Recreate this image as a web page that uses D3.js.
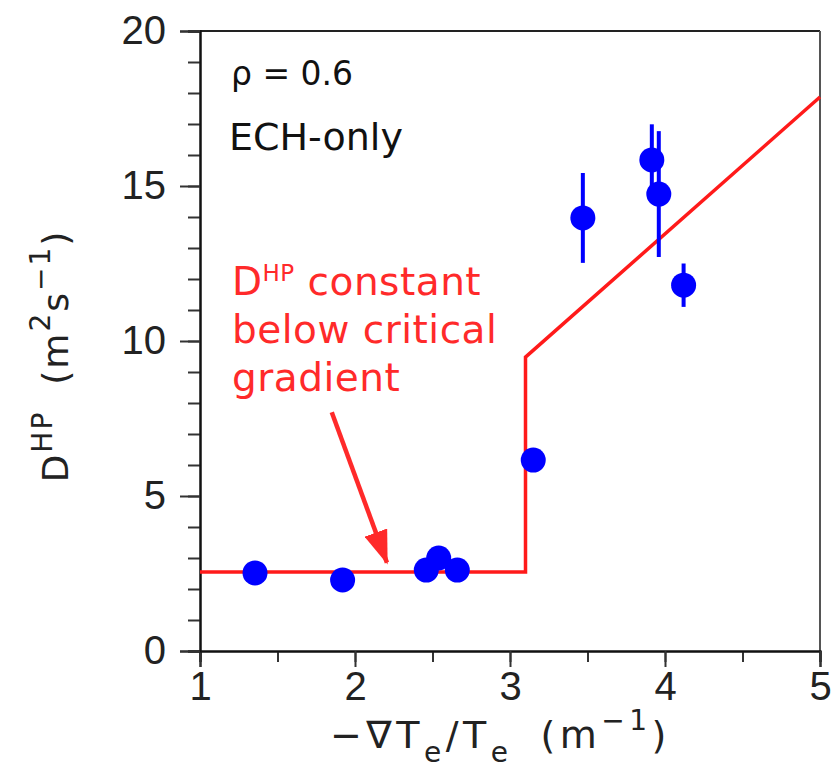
<!DOCTYPE html>
<html>
<head>
<meta charset="utf-8">
<script src="https://d3js.org/d3.v7.min.js"></script>
<style>
  body { margin: 0; background: #fff; }
  svg { display: block; }
</style>
</head>
<body>
<script>
// measured points: gradient, D_HP, error half-height (0 = none)
const gradX = [1.355, 1.92, 2.46, 2.54, 2.66, 3.15, 3.47, 3.915, 3.96, 4.12]
const dhpY  = [2.52, 2.29, 2.61, 3.0, 2.61, 6.16, 13.97, 15.84, 14.74, 11.8]
const errY  = [0, 0, 0, 0, 0, 0, 1.45, 1.15, 2.03, 0.7]

// model: constant below critical gradient, then linear
const modelX = [1, 3.1, 3.1, 5]
const modelY = [2.55, 2.55, 9.48, 17.87]

const xTicks = [1, 2, 3, 4, 5]
const yTicks = [0, 5, 10, 15, 20]

const W = 831, H = 772
const pL = 200, pR = 820, pT = 31, pB = 651

const sans = '"Liberation Sans", Arial, sans-serif'
const wide = '"DejaVu Sans", "Liberation Sans", sans-serif'

let svg = d3.select('body').append('svg')
  .attr('width', W)
  .attr('height', H)

const x = d3.scaleLinear().domain([1, 5]).range([pL, pR])
const y = d3.scaleLinear().domain([0, 20]).range([pB, pT])

// frame top / right
svg.append('line')
  .attr('x1', pL).attr('x2', pR).attr('y1', pT).attr('y2', pT)
  .attr('stroke', '#222').attr('stroke-width', 2)
svg.append('line')
  .attr('x1', pR).attr('x2', pR).attr('y1', pT).attr('y2', pB)
  .attr('stroke', '#555').attr('stroke-width', 2)

function styleAxis(g) {
  g.select('.domain').attr('stroke', '#111').attr('stroke-width', 2)
  g.selectAll('.tick line').attr('stroke', '#333').attr('stroke-width', 2)
  g.selectAll('text')
    .attr('fill', '#222')
    .style('font-size', '40px')
    .style('font-family', sans)
}

// minor ticks first
svg.append('g')
  .attr('transform', `translate(0,${pB})`)
  .call(d3.axisBottom(x).tickValues(d3.range(1, 5.01, 0.5)).tickSize(11).tickFormat(''))
  .call(styleAxis)
svg.append('g')
  .attr('transform', `translate(${pL},0)`)
  .call(d3.axisLeft(y).tickValues(d3.range(0, 20.01, 1)).tickSize(12).tickFormat(''))
  .call(styleAxis)

// major ticks + labels
svg.append('g')
  .attr('transform', `translate(0,${pB})`)
  .call(d3.axisBottom(x).tickValues(xTicks).tickSize(16).tickPadding(5).tickFormat(d3.format('d')))
  .call(styleAxis)
svg.append('g')
  .attr('transform', `translate(${pL},0)`)
  .call(d3.axisLeft(y).tickValues(yTicks).tickSize(20).tickPadding(14).tickFormat(d3.format('d')))
  .call(styleAxis)

// model line
const line = d3.line().x(d => x(d[0])).y(d => y(d[1]))
svg.append('path')
  .datum(d3.zip(modelX, modelY))
  .attr('d', line)
  .attr('fill', 'none')
  .attr('stroke', '#ff1a1a')
  .attr('stroke-width', 3.5)

// data
const pts = gradX.map((g, i) => ({x: g, y: dhpY[i], e: errY[i]}))

svg.append('g').selectAll('line')
  .data(pts.filter(d => d.e > 0))
  .join('line')
  .attr('x1', d => x(d.x)).attr('x2', d => x(d.x))
  .attr('y1', d => y(d.y - d.e)).attr('y2', d => y(d.y + d.e))
  .attr('stroke', '#0000ff')
  .attr('stroke-width', 4)

svg.append('g').selectAll('circle')
  .data(pts)
  .join('circle')
  .attr('cx', d => x(d.x))
  .attr('cy', d => y(d.y))
  .attr('r', 12.5)
  .attr('fill', '#0000ff')

// labels inside plot
svg.append('text')
  .attr('x', 231).attr('y', 85)
  .style('font-size', '33px').style('font-family', wide)
  .attr('fill', '#111')
  .text('ρ = 0.6')
svg.append('text')
  .attr('x', 229).attr('y', 150)
  .style('font-size', '38px').style('font-family', wide)
  .attr('fill', '#111')
  .text('ECH-only')

// annotation
const red = '#ff2a2a'
let ann = svg.append('text')
  .style('font-size', '39px').style('font-family', wide)
  .style('letter-spacing', '0.5px')
  .attr('fill', red)
let l1 = ann.append('tspan').attr('x', 232).attr('y', 295)
l1.append('tspan').text('D')
l1.append('tspan').style('font-size', '23px').attr('dy', -14).text('HP')
l1.append('tspan').attr('dy', 14).text(' constant')
ann.append('tspan').attr('x', 232).attr('y', 343).text('below critical')
ann.append('tspan').attr('x', 232).attr('y', 391).text('gradient')

// arrow
svg.append('defs').append('marker')
  .attr('id', 'head')
  .attr('viewBox', '0 0 34 24')
  .attr('refX', 32).attr('refY', 12)
  .attr('markerWidth', 34).attr('markerHeight', 24)
  .attr('markerUnits', 'userSpaceOnUse')
  .attr('orient', 'auto')
  .append('path')
  .attr('d', 'M0,0 L34,12 L0,24 Z')
  .attr('fill', red)
svg.append('line')
  .attr('x1', x(1.85)).attr('y1', y(7.7))
  .attr('x2', x(2.206)).attr('y2', y(2.85))
  .attr('stroke', red)
  .attr('stroke-width', 4.5)
  .attr('marker-end', 'url(#head)')

// x axis title
let xt = svg.append('text')
  .attr('x', 330).attr('y', 748)
  .style('font-size', '38px').style('font-family', wide)
  .style('letter-spacing', '4.5px')
  .attr('fill', '#222')
xt.append('tspan').text('−∇T')
xt.append('tspan').style('font-size', '28px').attr('dy', 14).text('e')
xt.append('tspan').attr('dy', -14).text('/T')
xt.append('tspan').style('font-size', '28px').attr('dy', 14).text('e')
xt.append('tspan').attr('dy', -14).attr('dx', 28).text('(m')
xt.append('tspan').style('font-size', '28px').attr('dy', -18).text('−1')
xt.append('tspan').attr('dy', 18).text(')')

// y axis title
let yt = svg.append('text')
  .attr('transform', `translate(68,356) rotate(-90)`)
  .attr('text-anchor', 'middle')
  .style('font-size', '36px').style('font-family', wide)
  .style('letter-spacing', '2px')
  .attr('fill', '#222')
yt.append('tspan').text('D')
yt.append('tspan').style('font-size', '28px').attr('dy', -16).text('HP')
yt.append('tspan').attr('dy', 16).attr('dx', 26).text('(m')
yt.append('tspan').style('font-size', '28px').attr('dy', -18).text('2')
yt.append('tspan').attr('dy', 18).text('s')
yt.append('tspan').style('font-size', '28px').attr('dy', -18).text('−1')
yt.append('tspan').attr('dy', 18).text(')')
</script>
</body>
</html>
